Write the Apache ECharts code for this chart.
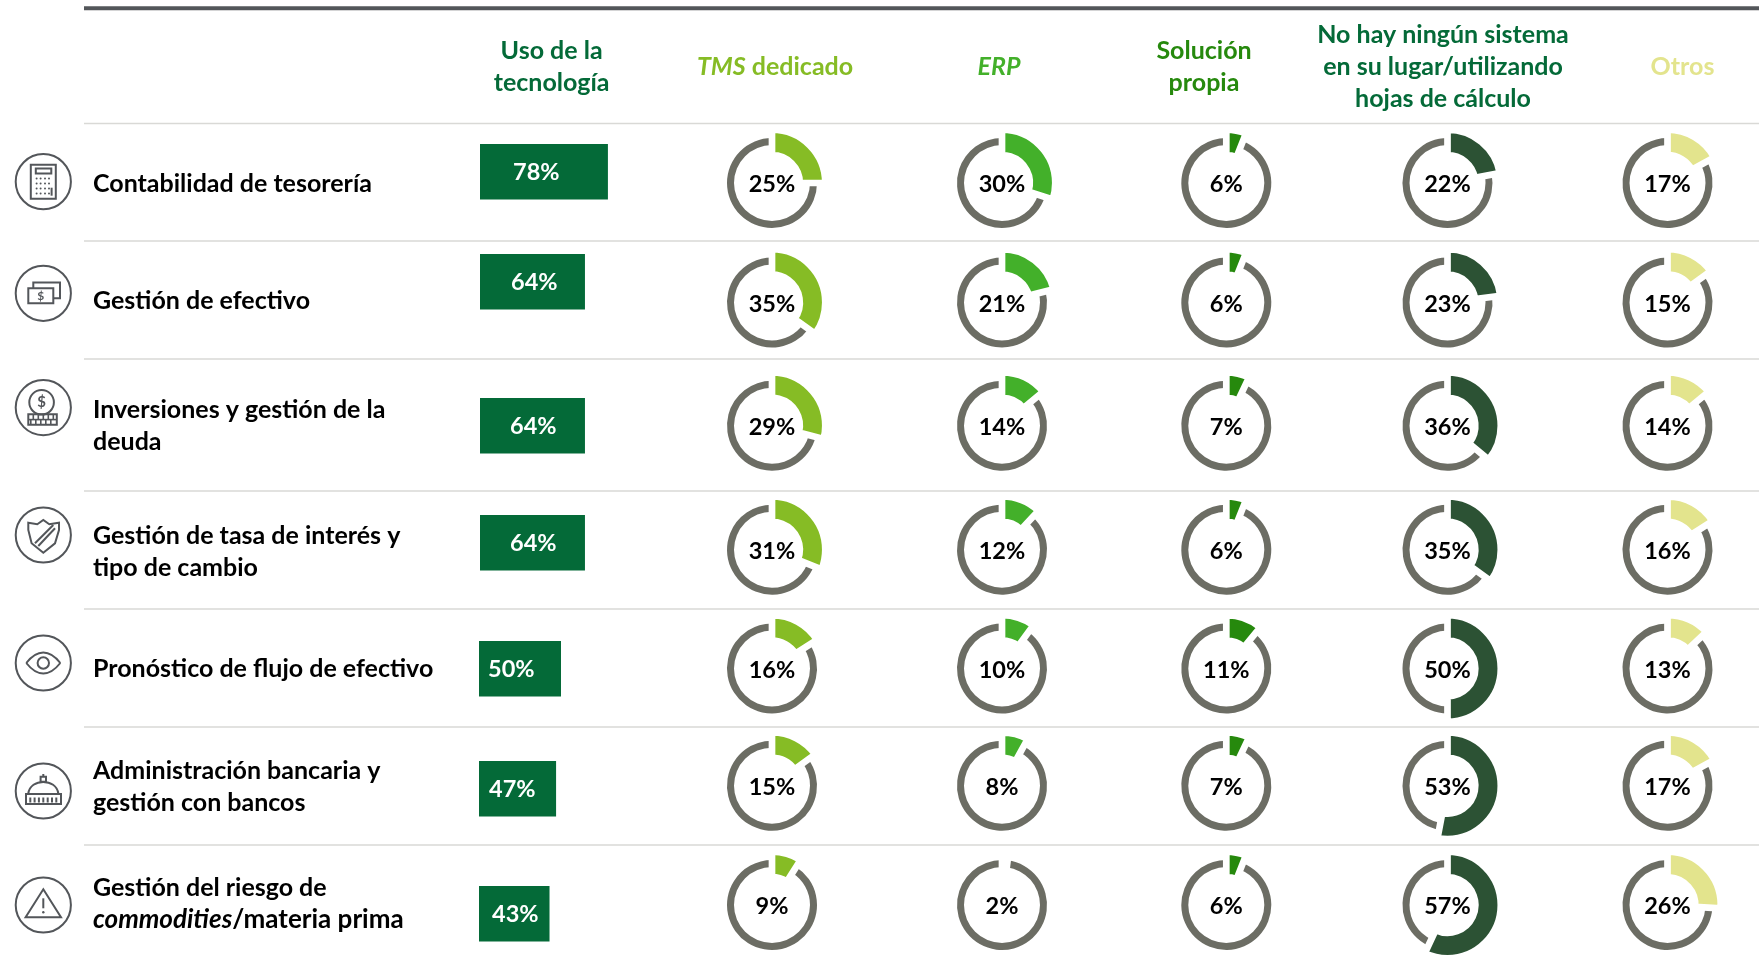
<!DOCTYPE html>
<html><head><meta charset="utf-8">
<style>html,body{margin:0;padding:0;background:#fff}#c{width:1759px;height:956px}</style>
<script src="https://cdn.jsdelivr.net/npm/echarts@6/dist/echarts.min.js"></script>
</head><body><div id="c"></div>
<script>
// ---- data ----
const categories = ['Contabilidad de tesorería','Gestión de efectivo','Inversiones y gestión de la\ndeuda','Gestión de tasa de interés y\ntipo de cambio','Pronóstico de flujo de efectivo','Administración bancaria y\ngestión con bancos','Gestión del riesgo de\n{c|commodities}{b|/materia prima}'];
const usoTecnologia = [78,64,64,64,50,47,43];
const tmsDedicado = [25,35,29,31,16,15,9];
const erp = [30,21,14,12,10,8,2];
const solucionPropia = [6,6,7,6,11,7,6];
const ninguno = [22,23,36,35,50,53,57];
const otros = [17,15,14,16,13,17,26];
const headers = ['Uso de la\ntecnología','{i|TMS} dedicado','{i|ERP}','Solución\npropia','No hay ningún sistema\nen su lugar/utilizando\nhojas de cálculo','Otros'];

// ---- layout and style ----
const FONT = 'Lato';
const FS = 25;
const FS_VAL = 23.5;
const LH = 32;
const headerColors = ['#046A38','#86BC25','#43B02A','#26890D','#046A38','#E3E48D'];
const headerX = [551.6,775,999,1204,1443,1682.5];
const headerY = 67;
const donutSeries = [tmsDedicado,erp,solucionPropia,ninguno,otros];
const donutColors = ['#86BC25','#43B02A','#26890D','#2C5234','#E3E48D'];
const donutX = [772,1002,1226.3,1447.5,1667.5];
const rowY = [183,302.5,425.7,549.7,668.5,785.7,905];
const ringGray = '#6C6D64';
const iconGray = '#53565A';
const iconY = [181.7,293.3,407.6,535,663,791,905];
const labelY = [184,300.7,425.5,552,669,787,904];
const ruleY = [123.5,241,359,491,609,727,845];
const barTop = [144,254,398,515,641,761,886];
const barLeft = [480,480,480,480,479,479,479];
const barLabelInset = [33,31,30,30,9,10,13];
const BAR_H = 55.5;

function txt(text,x,y,color,extra){
  return {type:'text',silent:true,z:5,style:Object.assign({
    text,x,y,align:'center',verticalAlign:'middle',fill:color,
    fontFamily:FONT,fontWeight:'bold',fontSize:FS,lineHeight:LH,
    rich:{
      i:{fontFamily:FONT,fontWeight:'bold',fontStyle:'italic',fontSize:FS,lineHeight:LH,fill:color},
      c:{fontFamily:FONT,fontWeight:'bold',fontStyle:'italic',fontSize:26,lineHeight:LH,fill:color},
      b:{fontFamily:FONT,fontWeight:'bold',fontSize:26,lineHeight:LH,fill:color}
    }
  },extra||{})};
}
const graphic = [];
graphic.push({type:'line',silent:true,shape:{x1:84,y1:8.3,x2:1759,y2:8.3},style:{stroke:'#53565A',lineWidth:4}});
ruleY.forEach(y=>graphic.push({type:'line',silent:true,shape:{x1:84,y1:y,x2:1759,y2:y},style:{stroke:'#D9D9D6',lineWidth:1.5}}));
headers.forEach((h,i)=>graphic.push(txt(h,headerX[i],headerY,headerColors[i])));
categories.forEach((c,i)=>graphic.push(txt(c,93,labelY[i],'#000',{align:'left'})));

// icons
const S = {stroke:iconGray,lineWidth:2,fill:'none'};
const line=(a,b,c,d,w)=>({type:'line',shape:{x1:a,y1:b,x2:c,y2:d},style:{stroke:iconGray,lineWidth:w||2}});
const rect=(x,y,w,h,fill)=>({type:'rect',shape:{x,y,width:w,height:h},style:{stroke:iconGray,lineWidth:2,fill:fill||'none'}});
const poly=(pts)=>({type:'polygon',shape:{points:pts},style:S});
const circ=(cx,cy,r)=>({type:'circle',shape:{cx,cy,r},style:S});
const dot=(cx,cy,r)=>({type:'circle',shape:{cx,cy,r},style:{fill:iconGray}});
const curve=(x1,y1,x2,y2,a,b,c,d)=>({type:'bezierCurve',shape:{x1,y1,x2,y2,cpx1:a,cpy1:b,cpx2:c,cpy2:d},style:{stroke:iconGray,lineWidth:2,fill:'none'}});
const dollar=(x,y,s)=>({type:'text',style:{text:'$',x,y,align:'center',verticalAlign:'middle',fill:iconGray,fontFamily:FONT,fontWeight:'bold',fontSize:s}});

const calcKids=[rect(-12.5,-17,25,34,'none'),rect(-7.5,-13.3,15.5,5,'none')];
[-3.3,1.7,6.7,11.7].forEach(y=>[-6.7,-2.7,1.7,5.7].forEach(x=>calcKids.push(dot(x,y,1))));
calcKids.push(line(8.3,6,8.3,14,2));
const coinKids=[circ(-1.7,-5.3,12.3),dollar(-1.7,-5.3,15),rect(-15,6.7,28.5,10.5,'none'),line(-15,12,13.5,12,1.6)];
[-10,-5,0,5,10].forEach(x=>{coinKids.push(line(x,7,x,12,1.6));coinKids.push(line(x-2.5,12,x-2.5,17,1.6));});
const domeKids=[poly([[-17.3,3],[17.7,3],[17.7,13],[-17.3,13]]),curve(-15,2.5,15,2.5,-13,-13,13,-13),rect(-2.7,-14.3,5.4,5,'none'),line(0,-17,0,-14.3)];
[-13,-8.7,-4.4,0,4.4,8.7,13].forEach(x=>domeKids.push(line(x,6.5,x,11.5,2)));
const icons=[
  calcKids,
  [rect(-10,-10.7,26.7,15.7,'#fff'),rect(-15,-5,25,15,'#fff'),dollar(-2.5,2.6,12)],
  coinKids,
  [poly([[-15,-12.3],[-6,-10.7],[0,-15],[6,-10.7],[15.7,-12.3],[15.7,-5],[11.7,8.3],[0,17.7],[-11.7,8.3],[-15,-5]]),line(-8.3,8.3,10,-10),line(-5,11,11.7,-6.7)],
  [curve(-17,0,17,0,-6,-14,6,-14),curve(-17,0,17,0,-6,14,6,14),circ(0,0,5.7)],
  domeKids,
  [poly([[0,-15.7],[17.7,12.3],[-17.7,12.3]]),line(0,-6.7,0,3.3),dot(0,7.3,1.2)]
];
icons.forEach((kids,i)=>{
  graphic.push({type:'group',x:43.3,y:iconY[i],silent:true,children:[circ(0,0,27.6)].concat(kids)});
});

// bars: one small grid per row, through the library's value axis
const grid=[],xAxis=[],yAxis=[],series=[];
usoTecnologia.forEach((v,i)=>{
  grid.push({left:barLeft[i],top:barTop[i],width:164,height:BAR_H});
  xAxis.push({gridIndex:i,type:'value',min:0,max:100,show:false});
  yAxis.push({gridIndex:i,type:'category',data:[categories[i]],show:false});
  series.push({type:'bar',xAxisIndex:i,yAxisIndex:i,data:[v],barWidth:'100%',silent:true,
    itemStyle:{color:'#046A38'},
    label:{show:true,position:'insideLeft',distance:barLabelInset[i],offset:[0,0.7],formatter:'{c}%',color:'#fff',fontFamily:FONT,fontWeight:'bold',fontSize:FS_VAL}});
});

// donuts
donutSeries.forEach((vals,c)=>{
  vals.forEach((v,r)=>{
    const base={type:'pie',center:[donutX[c],rowY[r]],startAngle:90,clockwise:true,silent:true,avoidLabelOverlap:false,labelLine:{show:false},animation:false};
    series.push(Object.assign({},base,{radius:[38,45],z:2,label:{show:false},
      data:[{value:v,itemStyle:{color:'rgba(0,0,0,0)'}},{value:100-v,itemStyle:{color:ringGray}}]}));
    series.push(Object.assign({},base,{radius:[27.8,53.3],z:3,
      data:[
        {value:v,itemStyle:{color:donutColors[c],borderColor:'#fff',borderWidth:6.7,borderJoin:'miter'},
         label:{show:true,position:'center',formatter:'{c}%',offset:[0,1.5],color:'#000',fontFamily:FONT,fontWeight:'bold',fontSize:FS_VAL}},
        {value:100-v,itemStyle:{color:'rgba(0,0,0,0)',borderWidth:0},label:{show:false}}
      ]}));
  });
});

const chart=echarts.init(document.getElementById('c'),null,{renderer:'canvas',width:1759,height:956});
chart.setOption({animation:false,backgroundColor:'#fff',tooltip:{show:false},grid,xAxis,yAxis,series,graphic});
</script></body></html>
